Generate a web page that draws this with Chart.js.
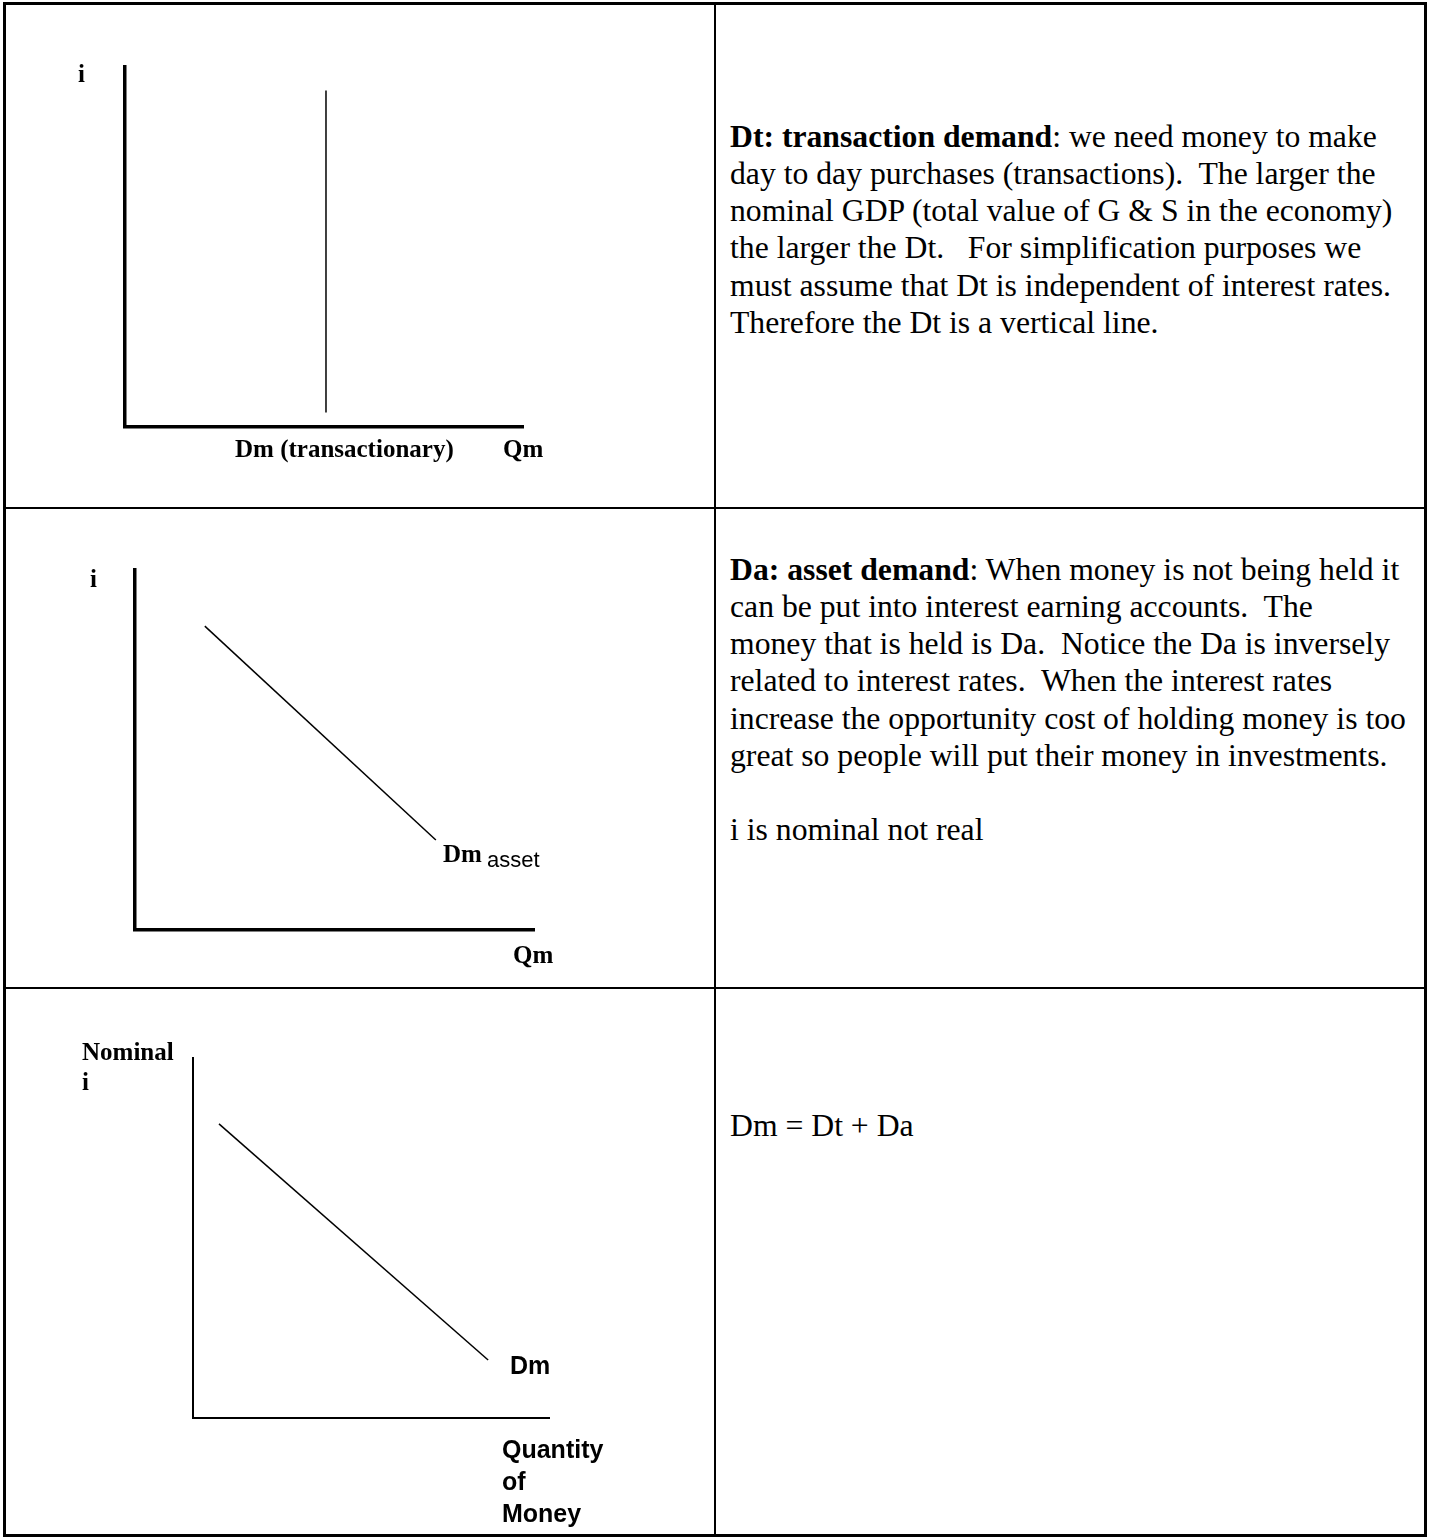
<!DOCTYPE html>
<html>
<head>
<meta charset="utf-8">
<title>Demand for money</title>
<script src="https://cdn.jsdelivr.net/npm/chart.js@4.4.1/dist/chart.umd.min.js"></script>
<style>
  html, body { margin: 0; padding: 0; background: #fff; }
  body { width: 1433px; height: 1538px; position: relative; overflow: hidden; }
  canvas { position: absolute; left: 0; }
  .rule { position: absolute; background: #000; z-index: 2; }
  .note {
    position: absolute; left: 730px; white-space: pre; color: #000;
    font-family: "Liberation Serif", "Times New Roman", serif;
    font-size: 31.7px; line-height: 37.2px;
  }
  .note b { font-weight: bold; }
</style>
</head>
<body>

<!-- table grid -->
<div class="rule" style="left:3px;top:2px;width:1424px;height:3px"></div>
<div class="rule" style="left:3px;top:1534px;width:1424px;height:3px"></div>
<div class="rule" style="left:3px;top:2px;width:3px;height:1535px"></div>
<div class="rule" style="left:1424px;top:2px;width:3px;height:1535px"></div>
<div class="rule" style="left:714px;top:2px;width:2px;height:1535px"></div>
<div class="rule" style="left:3px;top:507px;width:1424px;height:2px"></div>
<div class="rule" style="left:3px;top:987px;width:1424px;height:2px"></div>

<canvas id="panelTransaction" width="714" height="507" style="top:0px"></canvas>
<canvas id="panelAsset" width="714" height="480" style="top:507px"></canvas>
<canvas id="panelTotal" width="714" height="551" style="top:987px"></canvas>

<div class="note" style="top:117.8px"><b>Dt: transaction demand</b>: we need money to make
day to day purchases (transactions).  The larger the
nominal GDP (total value of G &amp; S in the economy)
the larger the Dt.   For simplification purposes we
must assume that Dt is independent of interest rates.
Therefore the Dt is a vertical line.</div>

<div class="note" style="top:550.8px"><b>Da: asset demand</b>: When money is not being held it
can be put into interest earning accounts.  The
money that is held is Da.  Notice the Da is inversely
related to interest rates.  When the interest rates
increase the opportunity cost of holding money is too
great so people will put their money in investments.

i is nominal not real</div>

<div class="note" style="top:1107px">Dm = Dt + Da</div>

<script>
// Curve end points (quantity of money on x, nominal interest rate on y, both on a 0-10 scale)
const transactionQty  = [5.05, 5.05];
const transactionRate = [0.4, 9.35];

const assetQty  = [1.75, 7.54];
const assetRate = [8.44, 2.5];

const totalQty  = [0.73, 8.29];
const totalRate = [8.17, 1.61];

// Axis and curve captions
const transactionLabels = ["i", "Dm (transactionary)", "Qm"];
const assetLabels = ["i", "Dm", "asset", "Qm"];
const totalLabels = ["Nominal", "i", "Dm", "Quantity", "of", "Money"];

const SERIF_BOLD = "bold 25px 'Liberation Serif', 'Times New Roman', serif";
const SANS_BOLD = "bold 25px 'Liberation Sans', Arial, sans-serif";
const SANS_SUB = "22px 'Liberation Sans', Arial, sans-serif";

// Draws captions placed relative to the plot area edges
const captionPlugin = {
  id: 'captions',
  afterDraw(chart, args, opts) {
    const ctx = chart.ctx;
    const a = chart.chartArea;
    ctx.save();
    ctx.fillStyle = '#000';
    ctx.textAlign = 'left';
    ctx.textBaseline = 'alphabetic';
    (opts.items || []).forEach(it => {
      const x = (it.fromX === 'right' ? a.right : a.left) + it.dx;
      const y = (it.fromY === 'bottom' ? a.bottom : a.top) + it.dy;
      ctx.font = it.font;
      ctx.fillText(it.text, x, y);
    });
    ctx.restore();
  }
};

function axis(width) {
  return {
    type: 'linear', min: 0, max: 10,
    grid: { display: false, drawTicks: false, tickLength: 0 },
    ticks: { display: false, padding: 0 },
    border: { display: true, color: '#000', width: width }
  };
}

function drawPanel(id, xs, ys, padding, axisWidth, items) {
  return new Chart(document.getElementById(id), {
    type: 'scatter',
    data: {
      datasets: [{
        data: xs.map((x, i) => ({ x: x, y: ys[i] })),
        showLine: true,
        borderColor: '#000',
        borderWidth: 1.5,
        pointRadius: 0,
        fill: false
      }]
    },
    options: {
      responsive: false,
      animation: false,
      events: [],
      layout: { padding: padding },
      plugins: {
        legend: { display: false },
        tooltip: { enabled: false },
        captions: { items: items }
      },
      scales: { x: axis(axisWidth), y: axis(axisWidth) }
    },
    plugins: [captionPlugin]
  });
}

drawPanel('panelTransaction', transactionQty, transactionRate,
  { left: 125, top: 67, right: 191, bottom: 80 }, 3.5, [
    { text: transactionLabels[0], dx: -47, dy: 15, font: SERIF_BOLD },
    { text: transactionLabels[1], dx: 110, fromY: 'bottom', dy: 30, font: SERIF_BOLD },
    { text: transactionLabels[2], dx: 378, fromY: 'bottom', dy: 30, font: SERIF_BOLD }
  ]);

drawPanel('panelAsset', assetQty, assetRate,
  { left: 135, top: 63, right: 180, bottom: 57 }, 3.5, [
    { text: assetLabels[0], dx: -45, dy: 17, font: SERIF_BOLD },
    { text: assetLabels[1], dx: 308, fromY: 'bottom', dy: -68, font: SERIF_BOLD },
    { text: assetLabels[2], dx: 352, fromY: 'bottom', dy: -63, font: SANS_SUB },
    { text: assetLabels[3], dx: 378, fromY: 'bottom', dy: 33, font: SERIF_BOLD }
  ]);

drawPanel('panelTotal', totalQty, totalRate,
  { left: 193, top: 71, right: 165, bottom: 120 }, 2, [
    { text: totalLabels[0], dx: -111, dy: 2, font: SERIF_BOLD },
    { text: totalLabels[1], dx: -111, dy: 32, font: SERIF_BOLD },
    { text: totalLabels[2], dx: 317, fromY: 'bottom', dy: -44, font: SANS_BOLD },
    { text: totalLabels[3], dx: 309, fromY: 'bottom', dy: 40, font: SANS_BOLD },
    { text: totalLabels[4], dx: 309, fromY: 'bottom', dy: 72, font: SANS_BOLD },
    { text: totalLabels[5], dx: 309, fromY: 'bottom', dy: 104, font: SANS_BOLD }
  ]);
</script>
</body>
</html>
